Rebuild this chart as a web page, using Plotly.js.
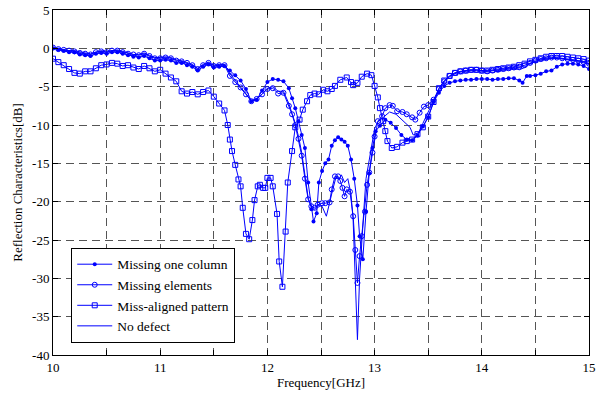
<!DOCTYPE html>
<html>
<head>
<meta charset="utf-8">
<script src="https://cdn.plot.ly/plotly-3.0.1.min.js"></script>
<style>html,body{margin:0;padding:0;background:#fff;}#chart{width:602px;height:394px;}</style>
</head>
<body>
<div id="chart"></div>
<script>
// Shared frequency segments (GHz)
const freqLow = [10.0,10.05,10.1,10.15,10.2,10.25,10.3,10.35,10.4,10.45,10.5,10.55,10.6,10.65,10.7,10.75,10.8,10.85,10.9,10.95,11.0,11.05,11.1,11.15,11.2,11.25,11.3,11.35,11.4,11.45,11.5,11.55,11.6];
const freqMid = [11.65,11.7,11.75,11.8,11.85,11.9,11.95,12.0,12.05,12.1,12.15,12.2];
const freqHigh = [13.6,13.65,13.7,13.75,13.8,13.85,13.9,13.95,14.0,14.05,14.1,14.15,14.2,14.25,14.3,14.35,14.4,14.45,14.5,14.55,14.6,14.65,14.7,14.75,14.8,14.85,14.9,14.95,15.0];

// Missing one column
const freqCol = freqLow.concat(freqMid, [12.23,12.26,12.29,12.32,12.35,12.38,12.41,12.43,12.46,12.48,12.51,12.54,12.57,12.6,12.63,12.66,12.69,12.72,12.75,12.78,12.81,12.84,12.86,12.89,12.92,12.95,12.98,13.01,
  13.05,13.1,13.15,13.2,13.25,13.3,13.35,13.4,13.45,13.5,13.55,13.6,13.65,13.7,13.75,13.8,13.85,13.9,13.95,14.0,14.05,14.1,14.15,14.2,14.25,14.3,14.35,
  14.38,14.42,14.45,14.5,14.55,14.6,14.65,14.7,14.75,14.8,14.85,14.9,14.95,15.0]);
const s11Col = [0.0,-0.2,-0.3,-0.5,-0.5,-0.8,-0.9,-1.0,-0.7,-0.6,-0.7,-0.5,-0.5,-0.7,-0.9,-1.1,-1.2,-1.0,-1.3,-1.6,-1.6,-1.5,-1.6,-1.9,-1.9,-2.2,-2.4,-2.9,-2.4,-2.1,-2.5,-2.4,-2.3,
  -2.9,-3.5,-4.2,-5.3,-6.9,-6.7,-5.5,-4.4,-4.0,-4.1,-4.3,-5.2,
  -6.5,-7.8,-9.5,-11.3,-13.0,-17.5,-21.0,-22.6,-21.5,-17.5,-16.0,-15.0,-14.5,-12.7,-12.0,-11.6,-11.9,-12.2,-12.7,-14.5,-17.0,-20.5,-24.5,-27.5,-21.3,-16.3,-13.0,-10.8,
  -10.1,-9.3,-9.7,-10.4,-11.3,-11.9,-12.0,-11.4,-10.2,-9.0,-7.0,-5.8,-4.9,-4.5,-4.3,-4.2,-4.1,-4.1,-4.0,-4.0,-4.0,-4.1,-4.0,-4.0,-3.9,-3.9,-4.2,
  -4.5,-3.6,-3.6,-3.5,-3.3,-3.0,-2.9,-2.4,-2.1,-2.0,-2.0,-2.1,-2.3,-2.7];

// Missing elements
const freqElem = freqLow.concat(freqMid, [12.23,12.26,12.29,12.32,12.35,12.38,12.41,12.44,12.47,12.51,12.54,12.58,12.6,12.63,12.66,12.68,12.7,12.72,12.74,12.77,12.8,12.82,12.84,12.86,12.88,12.91,12.93,12.95,12.98,13.0,13.03,13.07,13.1,13.14,13.17,13.21,13.26,13.3,13.35,13.38,13.42,13.46,13.5,13.55], freqHigh);
const s11Elem = [0.1,-0.1,-0.2,-0.3,-0.4,-0.6,-0.7,-0.8,-0.5,-0.4,-0.5,-0.3,-0.3,-0.5,-0.7,-0.8,-0.9,-0.7,-1.0,-1.3,-1.3,-1.2,-1.3,-1.6,-1.7,-1.9,-2.2,-2.7,-2.2,-1.9,-2.3,-2.2,-2.2,
  -3.6,-4.4,-5.1,-6.0,-6.9,-6.6,-6.0,-5.3,-5.2,-5.9,-5.8,-7.5,
  -8.6,-10.0,-11.8,-14.0,-17.0,-19.7,-20.6,-20.8,-20.4,-20.2,-20.2,-20.1,-18.4,-16.7,-16.7,-17.3,-18.2,-19.3,-18.4,-18.7,-21.9,-26.3,-30.6,-27.1,-24.5,-21.3,-17.8,-16.2,-13.6,-11.5,-9.5,-8.85,-7.8,-7.4,-7.5,-8.2,-8.3,-8.6,-9.0,-9.3,-8.4,-7.6,-7.4,-6.7,
  -5.3,-4.3,-3.6,-3.2,-3.0,-2.9,-2.8,-2.8,-2.9,-3.0,-2.9,-2.8,-2.7,-2.6,-2.5,-2.4,-2.2,-1.9,-1.6,-1.4,-1.3,-1.2,-1.2,-1.3,-1.4,-1.5,-1.6,-1.8,-2.0];

// Miss-aligned pattern
const freqMis = freqLow.concat([11.63,11.65,11.67,11.7,11.73,11.75,11.77,11.8,11.83,11.86,11.88,11.91,11.93,11.96,11.98,12.0,12.03,12.05,12.09,12.11,12.14,12.17,12.19,12.23,12.26,12.3,12.33,12.37,12.4,12.44,12.48,12.52,12.56,12.6,12.63,12.68,12.74,12.78,12.8,12.84,12.88,12.93,12.97,13.0,13.03,13.05,13.08,13.1,13.12,13.16,13.21,13.26,13.3,13.35,13.4,13.45,13.5,13.55], freqHigh);
const s11Mis = [-1.35,-1.8,-2.2,-2.7,-3.2,-3.3,-3.0,-3.0,-2.6,-2.2,-2.1,-1.9,-2.0,-2.3,-2.2,-2.5,-2.7,-2.3,-2.6,-3.0,-2.8,-3.3,-3.8,-4.3,-5.6,-5.9,-5.7,-6.0,-5.7,-5.5,-6.3,-7.2,-8.1,
  -10.0,-11.9,-13.4,-15.2,-17.1,-18.0,-20.8,-24.2,-24.9,-22.4,-19.8,-18.0,-17.8,-18.2,-18.2,-16.9,-16.9,-18.0,-21.6,-27.8,-31.1,-23.9,-17.5,-13.4,-10.3,-9.3,-8.0,-6.9,-6.1,-5.9,-6.0,-5.4,-5.6,-5.3,-4.9,-4.1,-3.8,-4.4,-4.8,-4.5,-3.7,-3.3,-3.5,-4.9,-6.4,-7.8,-9.5,-10.8,-12.1,-13.0,-12.85,-12.3,-12.1,-11.9,-11.2,-10.3,-8.9,-7.0,
  -5.2,-4.2,-3.6,-3.2,-3.0,-2.9,-2.8,-2.8,-2.9,-2.9,-2.8,-2.7,-2.6,-2.5,-2.4,-2.2,-2.0,-1.7,-1.5,-1.3,-1.1,-1.0,-1.0,-1.0,-1.1,-1.2,-1.3,-1.4,-1.6];

// No defect
const freqNone = freqLow.concat(freqMid, [12.23,12.26,12.29,12.32,12.35,12.38,12.41,12.44,12.47,12.51,12.55,12.58,12.61,12.64,12.67,12.69,12.72,12.75,12.78,12.8,12.82,12.84,12.86,12.88,12.9,12.92,12.95,12.98,13.0,13.03,13.08,13.14,13.2,13.26,13.33,13.36,13.41,13.45,13.5,13.55], freqHigh);
const s11None = [0.1,0.0,-0.2,-0.3,-0.3,-0.5,-0.6,-0.7,-0.5,-0.3,-0.4,-0.3,-0.2,-0.4,-0.6,-0.8,-0.8,-0.6,-0.9,-1.2,-1.2,-1.1,-1.2,-1.5,-1.6,-1.8,-2.1,-2.6,-2.1,-1.8,-2.2,-2.1,-2.1,
  -3.3,-4.2,-5.0,-5.9,-6.8,-6.6,-6.0,-5.2,-5.0,-5.6,-5.6,-7.2,
  -8.4,-9.8,-11.5,-13.6,-16.5,-19.5,-20.8,-21.0,-20.5,-20.6,-21.9,-20.0,-18.4,-16.8,-17.0,-16.5,-17.5,-17.0,-19.0,-22.5,-30.0,-38.0,-30.0,-25.0,-21.0,-17.0,-14.5,-12.0,-10.5,-9.6,-9.0,-8.3,-8.6,-9.4,-10.3,-11.3,-11.0,-9.8,-8.3,-6.8,
  -5.6,-4.4,-3.7,-3.3,-3.1,-3.0,-2.9,-2.9,-3.0,-3.0,-2.9,-2.9,-2.8,-2.7,-2.6,-2.8,-2.5,-2.0,-1.7,-1.5,-1.4,-1.3,-1.3,-1.4,-1.5,-1.6,-1.7,-1.9,-2.1];

const seriesNames = ['Missing one column','Missing elements','Miss-aligned pattern','No defect'];
const xTickVals = [10,10.5,11,11.5,12,12.5,13,13.5,14,14.5,15];
const xTickText = ['10','','11','','12','','13','','14','','15'];
const yTickVals = [5,0,-5,-10,-15,-20,-25,-30,-35,-40];
const yTickText = ['5','0','-5','-10','-15','-20','-25','-30','-35','-40'];

const blue = '#0000ff';
const traces = [
  {x: freqCol, y: s11Col, name: seriesNames[0], mode: 'lines+markers',
   line: {color: blue, width: 1}, marker: {symbol: 'circle', size: 4, color: blue}},
  {x: freqElem, y: s11Elem, name: seriesNames[1], mode: 'lines+markers',
   line: {color: blue, width: 1}, marker: {symbol: 'circle-open', size: 5, color: blue, line: {width: 1}}},
  {x: freqMis, y: s11Mis, name: seriesNames[2], mode: 'lines+markers',
   line: {color: blue, width: 1}, marker: {symbol: 'square-open', size: 5, color: blue, line: {width: 1}}},
  {x: freqNone, y: s11None, name: seriesNames[3], mode: 'lines',
   line: {color: blue, width: 1}}
];

const font = "Liberation Serif, DejaVu Serif, serif";
const layout = {
  width: 602, height: 394,
  margin: {l: 53, r: 13, t: 10, b: 39},
  paper_bgcolor: '#fff', plot_bgcolor: '#fff',
  font: {family: font, size: 13, color: '#000'},
  showlegend: true,
  legend: {x: 0.034, y: 0.035, xanchor: 'left', yanchor: 'bottom',
    bgcolor: '#fff', bordercolor: '#000', borderwidth: 1,
    font: {family: font, size: 13.5, color: '#000'}, itemwidth: 35},
  xaxis: {range: [10, 15], tickmode: 'array', tickvals: xTickVals, ticktext: xTickText,
    ticks: 'inside', ticklen: 5, tickcolor: '#000', showline: true, linecolor: '#000', linewidth: 1, mirror: 'ticks',
    showgrid: true, gridcolor: '#555', gridwidth: 1, griddash: '8px,5px', zeroline: false,
    tickfont: {family: font, size: 13},
    title: {text: 'Frequency[GHz]', font: {family: font, size: 13}, standoff: 4}},
  yaxis: {range: [-40, 5], tickmode: 'array', tickvals: yTickVals, ticktext: yTickText,
    ticks: 'inside', ticklen: 5, tickcolor: '#000', showline: true, linecolor: '#000', linewidth: 1, mirror: 'ticks',
    showgrid: true, gridcolor: '#555', gridwidth: 1, griddash: '8px,5px', zeroline: false,
    tickfont: {family: font, size: 13},
    title: {text: 'Reflection Characteristics[dB]', font: {family: font, size: 13}, standoff: 6}}
};
Plotly.newPlot('chart', traces, layout, {displayModeBar: false, staticPlot: true});
</script>
</body>
</html>
